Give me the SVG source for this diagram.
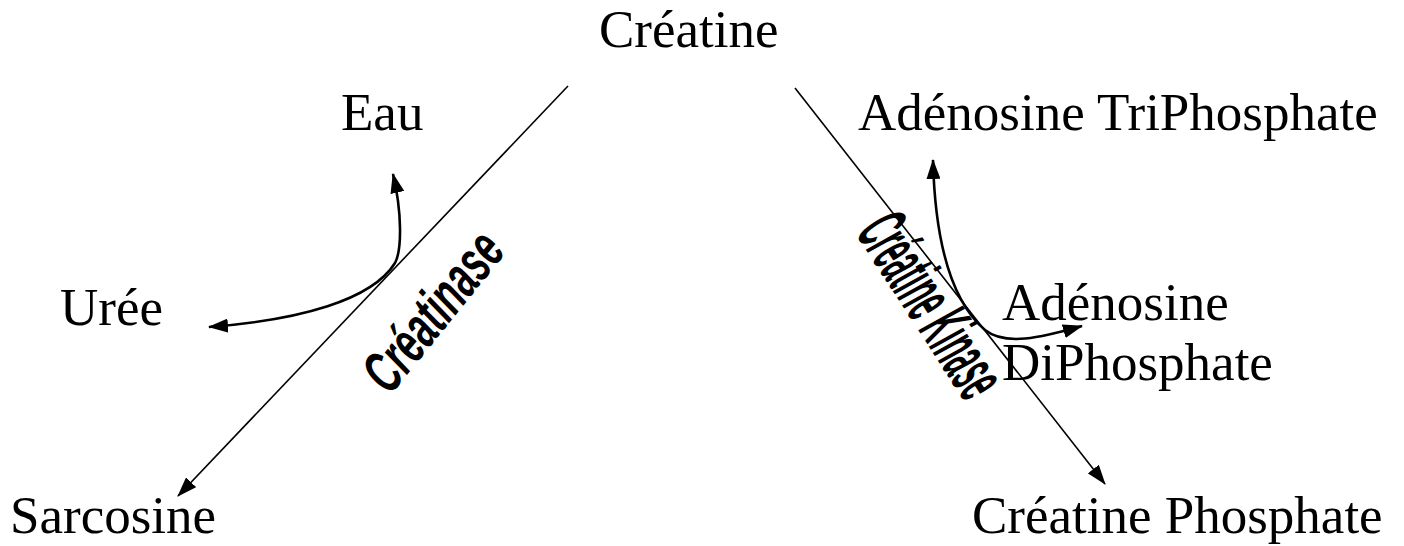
<svg xmlns="http://www.w3.org/2000/svg" width="1404" height="546" viewBox="0 0 1404 546">
  <style>
    .lbl { font-family: "Liberation Serif", "Times New Roman", serif; font-size: 53px; fill: #000; }
    .enz { font-family: "Liberation Sans", Arial, sans-serif; font-weight: bold; font-style: italic; fill: #000; }
    .main { fill: none; stroke: #000; stroke-width: 1.6; }
    .side { fill: none; stroke: #000; stroke-width: 2.6; }
  </style>
  <defs>
    <marker id="ah" viewBox="0 0 20 14" refX="19" refY="7" markerWidth="20" markerHeight="14" orient="auto-start-reverse" markerUnits="userSpaceOnUse">
      <path d="M0,0 L20,7 L0,14 Z" fill="#000"/>
    </marker>
  </defs>

  <rect width="1404" height="546" fill="#fff"/>

  <!-- connectors -->
  <g id="connectors">
    <line class="main" x1="568" y1="86" x2="178" y2="496" marker-end="url(#ah)"/>
    <line class="main" x1="795" y1="88" x2="1105" y2="484" marker-end="url(#ah)"/>
    <path class="side" d="M393,174 C402,212 402,250 395,263 C372,300 300,320 209,327" marker-start="url(#ah)" marker-end="url(#ah)"/>
    <path class="side" d="M933,160 C935,240 950,300 985,330 C1005,346 1040,338 1082,326" marker-start="url(#ah)" marker-end="url(#ah)"/>
  </g>

  <!-- enzyme labels (tall, condensed lettering) -->
  <g id="enzyme-creatinase">
    <text class="enz" font-size="33" transform="translate(390,396) rotate(-51) scale(1,1.8)" textLength="186" lengthAdjust="spacingAndGlyphs">Créatinase</text>
  </g>
  <g id="enzyme-creatine-kinase">
    <text class="enz" font-size="40" transform="translate(855,233) rotate(57) scale(1,1.85)" textLength="204" lengthAdjust="spacingAndGlyphs">Créatine Kinase</text>
  </g>

  <!-- compounds -->
  <g id="creatine"><text class="lbl" x="599" y="47">Créatine</text></g>
  <g id="eau"><text class="lbl" x="341" y="130">Eau</text></g>
  <g id="atp"><text class="lbl" x="858" y="130">Adénosine TriPhosphate</text></g>
  <g id="uree"><text class="lbl" x="60" y="325">Urée</text></g>
  <g id="adp">
    <text class="lbl" x="1002" y="320">Adénosine</text>
    <text class="lbl" x="1002" y="380">DiPhosphate</text>
  </g>
  <g id="sarcosine"><text class="lbl" x="10" y="533">Sarcosine</text></g>
  <g id="creatine-phosphate"><text class="lbl" x="972" y="533">Créatine Phosphate</text></g>
</svg>
